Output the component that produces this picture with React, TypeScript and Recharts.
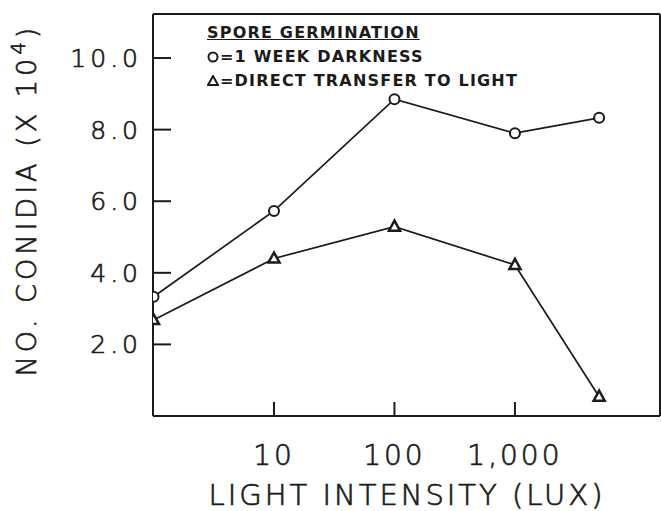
import { LineChart, Line, XAxis, YAxis, ReferenceLine } from "recharts";

// light intensity (lux) and conidia counts (x 10^4)
const LUX = [1, 10, 100, 1000, 5000];
const DARKNESS = [3.33, 5.73, 8.85, 7.9, 8.33];
const DIRECT = [2.68, 4.4, 5.29, 4.22, 0.54];
const X_TICKS = [10, 100, 1000];
const Y_TICKS = [2, 4, 6, 8, 10];

const X_MIN = 0.99;
const X_MAX = 16000;
const Y_MAX = 11.23;

const INK = "#1b1b1b";
const FONT = "'DejaVu Sans', sans-serif";

// thin plotter-style lettering, darkened with a hairline stroke
const thin = {
  fill: INK,
  stroke: INK,
  strokeWidth: 0.7,
  fontFamily: FONT,
  fontWeight: 200,
};

const data = LUX.map((lux, i) => ({ lux, dark: DARKNESS[i], direct: DIRECT[i] }));

function XTick({ x, y, payload }: any) {
  return (
    <g>
      <line x1={x} y1={y} x2={x} y2={y - 14} stroke={INK} strokeWidth={2} />
      <text x={x} y={y + 49} textAnchor="middle" {...thin} fontSize={28} letterSpacing={3}>
        {Number(payload.value).toLocaleString("en-US")}
      </text>
    </g>
  );
}

function YTick({ x, y, payload }: any) {
  return (
    <g>
      <line x1={x} y1={y} x2={x + 18} y2={y} stroke={INK} strokeWidth={2} />
      <text x={x - 11} y={y + 9} textAnchor="end" {...thin} fontSize={25} letterSpacing={4}>
        {Number(payload.value).toFixed(1)}
      </text>
    </g>
  );
}

function Circle({ cx, cy }: any) {
  if (cx == null || cy == null) return null;
  return <circle cx={cx} cy={cy} r={5} fill="#fff" stroke={INK} strokeWidth={2} />;
}

function Tri({ cx, cy }: any) {
  if (cx == null || cy == null) return null;
  return (
    <path
      d={`M${cx},${cy - 6} L${cx + 5.5},${cy + 4} L${cx - 5.5},${cy + 4} Z`}
      fill="#fff"
      stroke={INK}
      strokeWidth={2.5}
    />
  );
}

function Key() {
  const line = {
    fontFamily: FONT,
    fontWeight: 700,
    fontSize: 16,
    letterSpacing: 1.2,
    color: INK,
    lineHeight: "24px",
    whiteSpace: "nowrap" as const,
  };
  return (
    <div style={{ position: "absolute", left: 207, top: 21 }}>
      <div style={{ ...line, textDecoration: "underline" }}>SPORE GERMINATION</div>
      <div style={line}>
        <svg width={12} height={12} style={{ verticalAlign: "-1px", marginRight: 1 }}>
          <circle cx={6} cy={6} r={4.5} fill="none" stroke={INK} strokeWidth={2} />
        </svg>
        =1 WEEK DARKNESS
      </div>
      <div style={line}>
        <svg width={12} height={12} style={{ verticalAlign: "-1px", marginRight: 1 }}>
          <path d="M6,1 L11,10 L1,10 Z" fill="none" stroke={INK} strokeWidth={2} />
        </svg>
        =DIRECT TRANSFER TO LIGHT
      </div>
    </div>
  );
}

export default function App() {
  return (
    <div style={{ position: "absolute", left: 0, top: 0, width: 661, height: 511, background: "#fff" }}>
      <LineChart width={661} height={511} data={data} margin={{ top: 14, right: 1, left: 0, bottom: 0 }}>
        <XAxis
          dataKey="lux"
          type="number"
          scale="log"
          domain={[X_MIN, X_MAX]}
          allowDataOverflow
          ticks={X_TICKS}
          tick={<XTick />}
          tickLine={false}
          tickSize={0}
          tickMargin={0}
          height={95}
          axisLine={{ stroke: INK, strokeWidth: 2 }}
          label={{
            content: () => (
              <text x={407} y={505} textAnchor="middle" {...thin} fontSize={29} letterSpacing={3}>
                LIGHT INTENSITY (LUX)
              </text>
            ),
          }}
        />
        <YAxis
          type="number"
          domain={[0, Y_MAX]}
          allowDataOverflow
          ticks={Y_TICKS}
          tick={<YTick />}
          tickLine={false}
          tickSize={0}
          tickMargin={0}
          width={153}
          axisLine={{ stroke: INK, strokeWidth: 2 }}
          label={{
            content: () => (
              <text transform="translate(36,200) rotate(-90)" textAnchor="middle" {...thin} fontSize={27} letterSpacing={4}>
                NO. CONIDIA (X 10
                <tspan dy={-11} fontSize={20}>4</tspan>
                <tspan dy={11}>)</tspan>
              </text>
            ),
          }}
        />
        <ReferenceLine y={Y_MAX} stroke={INK} strokeWidth={2} />
        <ReferenceLine x={X_MAX} stroke={INK} strokeWidth={2} />
        <Line dataKey="dark" stroke={INK} strokeWidth={1.7} dot={<Circle />} isAnimationActive={false} />
        <Line dataKey="direct" stroke={INK} strokeWidth={1.7} dot={<Tri />} isAnimationActive={false} />
      </LineChart>
      <Key />
    </div>
  );
}
